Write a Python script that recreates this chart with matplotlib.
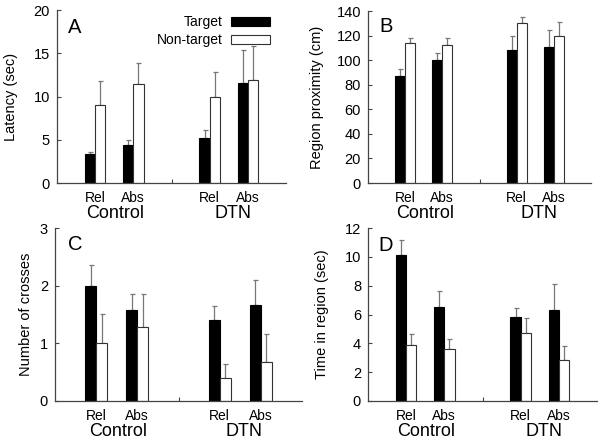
import matplotlib
matplotlib.use("Agg")
import matplotlib.pyplot as plt
from matplotlib.patches import Patch

plt.rcParams['font.family'] = ['Liberation Sans', 'DejaVu Sans']

# ---- data ----
groups = ["Control", "DTN"]
conditions = ["Rel", "Abs", "Rel", "Abs"]
series = ["Target", "Non-target"]

latency_target = [3.4, 4.4, 5.2, 11.6]
latency_target_err = [0.2, 0.6, 0.9, 3.8]
latency_nontarget = [9.0, 11.4, 9.9, 11.9]
latency_nontarget_err = [2.8, 2.5, 2.9, 3.9]

prox_target = [87, 100, 108.5, 111]
prox_target_err = [6, 5.5, 11.5, 13.5]
prox_nontarget = [114, 112.5, 130, 119.5]
prox_nontarget_err = [4, 5.5, 5, 11.5]

cross_target = [2.0, 1.57, 1.40, 1.67]
cross_target_err = [0.36, 0.29, 0.24, 0.42]
cross_nontarget = [1.0, 1.29, 0.40, 0.67]
cross_nontarget_err = [0.51, 0.56, 0.24, 0.49]

time_target = [10.1, 6.55, 5.85, 6.3]
time_target_err = [1.1, 1.1, 0.6, 1.8]
time_nontarget = [3.9, 3.6, 4.75, 2.85]
time_nontarget_err = [0.75, 0.7, 1.0, 0.95]

panels = [
    dict(letter="A", ylabel="Latency (sec)", yticks=[0, 5, 10, 15, 20],
         t=latency_target, te=latency_target_err, n=latency_nontarget, ne=latency_nontarget_err,
         rect=[57, 10, 286, 183], ylab_x=-0.17, let=(0.048, 0.90), legend=True),
    dict(letter="B", ylabel="Region proximity (cm)", yticks=[0, 20, 40, 60, 80, 100, 120, 140],
         t=prox_target, te=prox_target_err, n=prox_nontarget, ne=prox_nontarget_err,
         rect=[368, 11, 591, 183], ylab_x=-0.197, let=(0.05, 0.907), legend=False),
    dict(letter="C", ylabel="Number of crosses", yticks=[0, 1, 2, 3],
         t=cross_target, te=cross_target_err, n=cross_nontarget, ne=cross_nontarget_err,
         rect=[55, 228, 302, 401], ylab_x=-0.089, let=(0.053, 0.907), legend=False),
    dict(letter="D", ylabel="Time in region (sec)", yticks=[0, 2, 4, 6, 8, 10, 12],
         t=time_target, te=time_target_err, n=time_nontarget, ne=time_nontarget_err,
         rect=[368, 228, 597, 401], ylab_x=-0.17, let=(0.044, 0.90), legend=False),
]

W, H = 602, 443
fig = plt.figure(figsize=(W / 100, H / 100), dpi=100)

positions = [1, 2, 4, 5]
bw = 0.27
axcol = "#444444"
errcol = "#777777"

for p in panels:
    x0, y0, x1, y1 = p["rect"]
    ax = fig.add_axes([x0 / W, 1 - y1 / H, (x1 - x0) / W, (y1 - y0) / H])
    xt = [q - bw / 2 for q in positions]
    xn = [q + bw / 2 for q in positions]
    ax.bar(xt, p["t"], width=bw, color="black", edgecolor="black", linewidth=0.8, label=series[0], zorder=2)
    ax.bar(xn, p["n"], width=bw, color="white", edgecolor="#333333", linewidth=0.8, label=series[1], zorder=2)
    ax.errorbar(xt, p["t"], yerr=[[0] * 4, p["te"]], fmt="none", ecolor=errcol,
                elinewidth=0.9, capsize=1.8, capthick=0.9, zorder=1)
    ax.errorbar(xn, p["n"], yerr=[[0] * 4, p["ne"]], fmt="none", ecolor=errcol,
                elinewidth=0.9, capsize=1.8, capthick=0.9, zorder=1)
    ax.set_xlim(0, 6)
    ax.set_ylim(p["yticks"][0], p["yticks"][-1])
    ax.set_yticks(p["yticks"])
    ax.set_xticks(positions)
    ax.set_xticklabels(conditions, fontsize=10)
    ax.set_xticks([3], minor=True)
    ax.tick_params(axis="x", which="major", length=0, pad=6)
    ax.tick_params(axis="x", which="minor", direction="in", length=3, width=0.8, color=axcol)
    ax.tick_params(axis="y", direction="in", length=3, width=0.8, color=axcol, labelsize=10.5, pad=5)
    for s in ["top", "right"]:
        ax.spines[s].set_visible(False)
    for s in ["left", "bottom"]:
        ax.spines[s].set_color(axcol)
        ax.spines[s].set_linewidth(0.9)
    ax.set_ylabel(p["ylabel"], fontsize=10.5)
    ax.yaxis.set_label_coords(p["ylab_x"], 0.5)
    ax.text(p["let"][0], p["let"][1], p["letter"], transform=ax.transAxes,
            fontsize=14.5, ha="left", va="center")
    for gx, g in zip([1.53, 4.6], groups):
        ax.annotate(g, xy=(gx, 0), xycoords=("data", "axes fraction"),
                    xytext=(0, -16), textcoords="offset points",
                    ha="center", va="top", fontsize=13)
    if p["legend"]:
        handles = [Patch(facecolor="black", edgecolor="black", linewidth=0.8),
                   Patch(facecolor="white", edgecolor="#333333", linewidth=0.8)]
        ax.legend(handles, series, loc="upper right", bbox_to_anchor=(0.93, 0.97),
                  frameon=False, markerfirst=False, fontsize=10, handlelength=2.8,
                  handleheight=0.6, handletextpad=0.6, borderpad=0, borderaxespad=0,
                  labelspacing=0.3)

fig.savefig("out.png", dpi=100)
